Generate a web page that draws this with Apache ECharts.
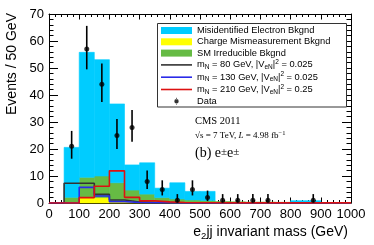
<!DOCTYPE html>
<html><head><meta charset="utf-8">
<script src="https://cdn.jsdelivr.net/npm/echarts@6/dist/echarts.min.js"></script>
<style>html,body{margin:0;padding:0;background:#fff}#c{width:374px;height:245px}</style>
</head><body><div id="c"></div>
<script>
// Bin lower edges (GeV), bin width 50
const binLow = [0,50,100,150,200,250,300,350,400,450,500,550,600,650,700,750,800,850,900,950];
const binWidth = 50;
// Stacked backgrounds (events / 50 GeV), each component's own contribution
const chargeMis = [0,0.2,2.1,2.0,0.8,0.8,0.3,0.2,0.1,0.1,0.1,0.05,0.05,0.05,0.05,0.05,0.05,0.05,0.05,0.05];
const smIrreducible = [0,1.9,7.4,8.0,6.7,4.0,3.0,1.8,1.4,1.0,0.8,0.5,0.4,0.3,0.3,0.2,0.2,0.2,0.1,0.1];
const misIdentified = [0,18.5,46.3,43.1,29.2,9.3,11.6,3.5,6.0,3.2,3.4,0,0,0,0,0,0.6,0.6,0,0];
// Signal hypotheses
const sig80 = [0,7.3,7.3,3.2,1.1,0.4,0.2,0.1,0.1,0.05,0.05,0.05,0.05,0.05,0.05,0.05,0.05,0.05,0.05,0.05];
const sig130 = [0,0,5.8,2.6,0.5,0.2,0.1,0.1,0.05,0.05,0.05,0.05,0.05,0.05,0.05,0.05,0.05,0.05,0.05,0.05];
const sig210 = [0,0,2.0,6.2,11.9,2.1,0.8,0.4,0.2,0.1,0.1,0.05,0.05,0.05,0.05,0.05,0.05,0.05,0.05,0.05];
// Data points
const dataX = [75,125,175,225,275,325,375,425,475,525,575,625,675,725,875];
const dataY = [21,57,44,25,28,8,5,1,5,2,1,1,1,1,1];
const errLow = [16.4,49.5,37.4,20.0,22.7,5.2,2.8,0.2,2.8,0.7,0.2,0.2,0.2,0.2,0.2];
const errHigh = [26.7,65.6,51.7,31.1,34.4,12.0,8.4,3.3,8.4,4.6,3.3,3.3,3.3,3.3,3.3];
// Axis ticks
const xTicks = {min:0, max:1000, interval:100};
const yTicks = {min:0, max:70, interval:10};

const legendNames = {
  mis: 'Misidentified Electron Bkgnd',
  chg: 'Charge Mismeasurement Bkgnd',
  sm: 'SM Irreducible Bkgnd',
  s80: 'mN80', s130: 'mN130', s210: 'mN210',
  data: 'Data'
};
const legendRich = {
  mN80: '{t|m}{sub|N}{t| = 80 GeV, |V}{sub|eN}{t||}{sup|2}{t| = 0.025}',
  mN130: '{t|m}{sub|N}{t| = 130 GeV, |V}{sub|eN}{t||}{sup|2}{t| = 0.025}',
  mN210: '{t|m}{sub|N}{t| = 210 GeV, |V}{sub|eN}{t||}{sup|2}{t| = 0.25}'
};

// build stacked rectangles
const base0 = binLow.map(() => 0);
const top1 = chargeMis.map((v,i) => base0[i] + v);
const top2 = smIrreducible.map((v,i) => top1[i] + v);
const top3 = misIdentified.map((v,i) => top2[i] + v);
function rects(lo, hi) {
  return binLow.map((x,i) => [x, x + binWidth, lo[i], hi[i]]).filter(d => d[3] > d[2]);
}
function fillSeries(name, color, data) {
  return {
    name, type: 'custom', z: 2, data,
    itemStyle: {color},
    encode: {x: [0,1], y: [2,3]},
    renderItem: (params, api) => {
      const p0 = api.coord([api.value(0), api.value(2)]);
      const p1 = api.coord([api.value(1), api.value(3)]);
      return {type: 'rect', shape: {x: p0[0], y: p1[1], width: p1[0]-p0[0], height: p0[1]-p1[1]},
        style: {fill: color, stroke: color, lineWidth: 0.6}};
    }
  };
}
function stepData(arr) {
  const d = binLow.map((x,i) => [x, arr[i]]);
  d.push([binLow[binLow.length-1] + binWidth, arr[arr.length-1]]);
  return d;
}
function stepSeries(name, color, arr) {
  return {name, type: 'line', step: 'end', z: 3, data: stepData(arr), symbol: 'none', showSymbol: false,
    lineStyle: {color, width: 1.6}, itemStyle: {color}};
}

const lineIcon = 'path://M0,0h31v1.6h-31z';
const chart = echarts.init(document.getElementById('c'), null, {renderer: 'canvas'});
const axisCommon = {
  axisLine: {show: true, onZero: false, lineStyle: {color: '#000', width: 1}},
  splitLine: {show: false}
};
const tickLabel = {fontSize: 13, color: '#000', margin: 5, fontFamily: 'Liberation Sans', formatter: v => String(v)};
chart.setOption({
  animation: false,
  backgroundColor: '#fff',
  grid: {left: 49, right: 23, top: 14, bottom: 42},
  xAxis: [
    Object.assign({type: 'value', position: 'bottom', min: xTicks.min, max: xTicks.max, interval: xTicks.interval,
      axisTick: {inside: true, length: 5.5, lineStyle: {color: '#000'}},
      minorTick: {show: true, splitNumber: 5, length: 3, lineStyle: {color: '#000'}},
      axisLabel: tickLabel}, axisCommon),
    Object.assign({type: 'value', position: 'top', min: xTicks.min, max: xTicks.max, interval: xTicks.interval,
      axisTick: {inside: true, length: 5.5, lineStyle: {color: '#000'}},
      minorTick: {show: true, splitNumber: 5, length: 3, lineStyle: {color: '#000'}},
      axisLabel: {show: false}}, axisCommon)
  ],
  yAxis: [
    Object.assign({type: 'value', position: 'left', min: yTicks.min, max: yTicks.max, interval: yTicks.interval,
      axisTick: {inside: true, length: 9, lineStyle: {color: '#000'}},
      minorTick: {show: true, splitNumber: 5, length: 4.5, lineStyle: {color: '#000'}},
      axisLabel: tickLabel}, axisCommon),
    Object.assign({type: 'value', position: 'right', min: yTicks.min, max: yTicks.max, interval: yTicks.interval,
      axisTick: {inside: true, length: 9, lineStyle: {color: '#000'}},
      minorTick: {show: true, splitNumber: 5, length: 4.5, lineStyle: {color: '#000'}},
      axisLabel: {show: false}}, axisCommon)
  ],
  legend: {
    orient: 'vertical', left: 161, top: 25, padding: 0, itemGap: 0.3,
    itemWidth: 31, itemHeight: 7, z: 10,
    symbolKeepAspect: true,
    data: [
      {name: legendNames.mis, icon: 'rect'},
      {name: legendNames.chg, icon: 'rect'},
      {name: legendNames.sm, icon: 'rect'},
      {name: legendNames.s80, icon: lineIcon},
      {name: legendNames.s130, icon: lineIcon},
      {name: legendNames.s210, icon: lineIcon},
      {name: legendNames.data, icon: 'path://M2.1,0h0.8v2h-0.8z M2.1,6h0.8v2h-0.8z M0,4a2.5,2.5 0 1,0 5,0a2.5,2.5 0 1,0 -5,0z'}
    ],
    formatter: name => legendRich[name] || ('{t|' + name + '}'),
    textStyle: {
      fontSize: 9.3, fontFamily: 'Liberation Sans', color: '#000', lineHeight: 11,
      rich: {
        t: {fontSize: 9.3, fontFamily: 'Liberation Sans', color: '#000', lineHeight: 11},
        sub: {fontSize: 6.5, fontFamily: 'Liberation Sans', color: '#000', lineHeight: 6, padding: [5,0,0,0]},
        sup: {fontSize: 6.5, fontFamily: 'Liberation Sans', color: '#000', lineHeight: 6, padding: [0,0,5,0]}
      }
    }
  },
  graphic: [
    {type: 'rect', z: 5, shape: {x: 157.5, y: 23.5, width: 189, height: 83.5},
      style: {fill: '#fff', stroke: '#333', lineWidth: 1}},
    {type: 'text', x: 12, y: 64, rotation: Math.PI/2, z: 6,
      style: {text: 'Events / 50 GeV', fontSize: 14, fontFamily: 'Liberation Sans', fill: '#000', textAlign: 'center', textVerticalAlign: 'middle'}},
    {type: 'text', x: 348, y: 232, z: 6,
      style: {text: '{n|e}{s|2}{n|jj invariant mass (GeV)}', textAlign: 'right', textVerticalAlign: 'middle', fill: '#000',
        rich: {n: {fontSize: 14, fontFamily: 'Liberation Sans', lineHeight: 16}, s: {fontSize: 9.5, fontFamily: 'Liberation Sans', lineHeight: 8, padding: [8,0,0,0]}}}},
    {type: 'text', x: 195, y: 121, z: 6,
      style: {text: 'CMS 2011', fontSize: 10.5, fontFamily: 'Liberation Serif', fill: '#000', textAlign: 'left', textVerticalAlign: 'middle'}},
    {type: 'text', x: 195, y: 135.5, z: 6,
      style: {text: '{n|√s = 7 TeV, }{i|L}{n| = 4.98 fb}{s|−1}', textAlign: 'left', textVerticalAlign: 'middle', fill: '#000',
        rich: {n: {fontSize: 9, fontFamily: 'Liberation Serif', lineHeight: 10},
               i: {fontSize: 9, fontFamily: 'Liberation Serif', fontStyle: 'italic', lineHeight: 10},
               s: {fontSize: 6.5, fontFamily: 'Liberation Serif', lineHeight: 5, padding: [0,0,5,0]}}}},
    {type: 'text', x: 195, y: 153, z: 6,
      style: {text: '{n|(b) e}{s|±}{n|e}{s|±}', textAlign: 'left', textVerticalAlign: 'middle', fill: '#000',
        rich: {n: {fontSize: 14, fontFamily: 'Liberation Serif', lineHeight: 16},
               s: {fontSize: 11, fontFamily: 'Liberation Serif', lineHeight: 12, padding: [0,0,2,0]}}}}
  ],
  series: [
    fillSeries(legendNames.chg, '#ffff00', rects(base0, top1)),
    fillSeries(legendNames.sm, '#66bb44', rects(top1, top2)),
    fillSeries(legendNames.mis, '#00ccff', rects(top2, top3)),
    stepSeries(legendNames.s80, '#333333', sig80),
    stepSeries(legendNames.s130, '#2a2ae8', sig130),
    stepSeries(legendNames.s210, '#dd1111', sig210),
    {name: legendNames.data + '_err', type: 'custom', z: 4,
      data: dataX.map((x,i) => [x, errLow[i], errHigh[i]]),
      encode: {x: 0, y: [1,2]},
      renderItem: (params, api) => {
        const a = api.coord([api.value(0), api.value(1)]);
        const b = api.coord([api.value(0), api.value(2)]);
        return {type: 'line', shape: {x1: a[0], y1: a[1], x2: b[0], y2: b[1]}, style: {stroke: '#000', lineWidth: 1.6}};
      }},
    {name: legendNames.data, type: 'scatter', z: 5, symbol: 'circle', symbolSize: 5,
      itemStyle: {color: '#000'}, data: dataX.map((x,i) => [x, dataY[i]])}
  ]
});
</script></body></html>
